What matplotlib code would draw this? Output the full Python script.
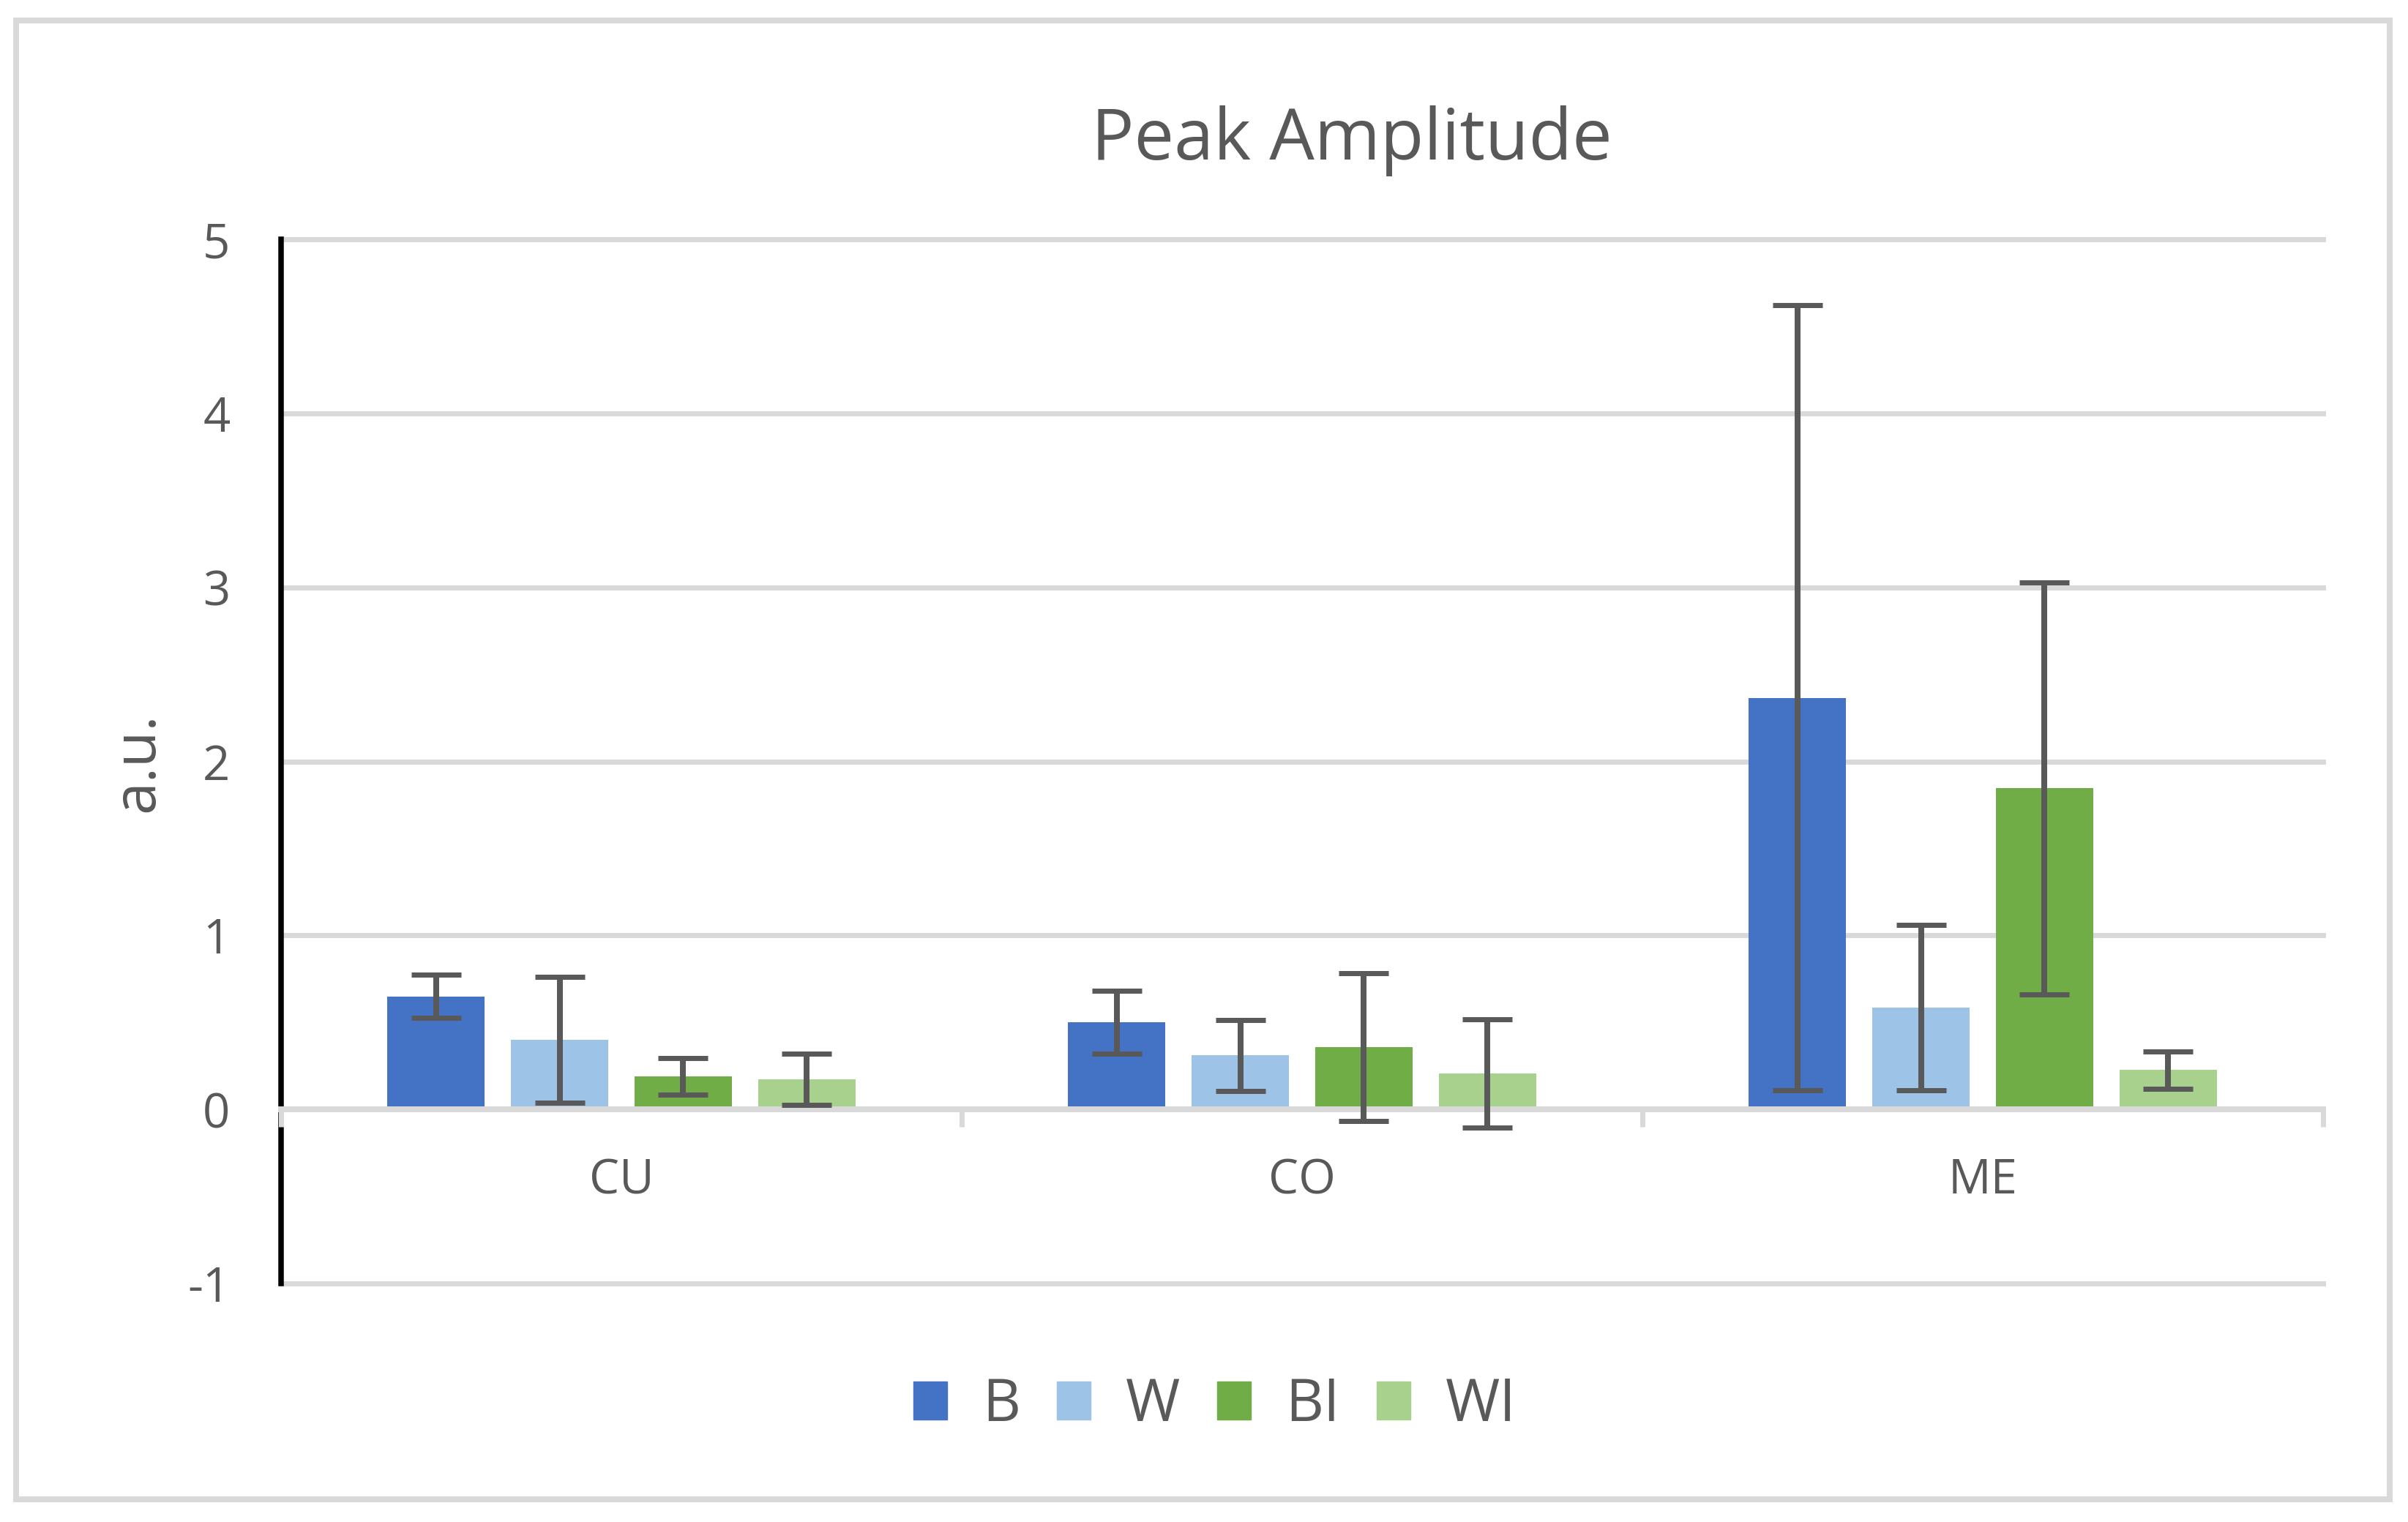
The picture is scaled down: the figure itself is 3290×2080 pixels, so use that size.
import matplotlib
matplotlib.use("Agg")
import matplotlib.pyplot as plt
import matplotlib.patches as mpatches
import numpy as np

plt.rcParams['font.family'] = ['Open Sans', 'DejaVu Sans']

categories = ["CU", "CO", "ME"]
series = ["B", "W", "BI", "WI"]
values_B = [0.65, 0.50, 2.365]
values_W = [0.40, 0.31, 0.586]
values_BI = [0.19, 0.357, 1.845]
values_WI = [0.175, 0.207, 0.226]
err_B = [0.125, 0.18, 2.255]
err_W = [0.36, 0.204, 0.474]
err_BI = [0.106, 0.425, 1.183]
err_WI = [0.147, 0.31, 0.106]
yticks = [-1, 0, 1, 2, 3, 4, 5]

colors = ["#4472C4", "#9DC3E6", "#70AD47", "#A9D18E"]
TXT = "#595959"
GRID = "#D9D9D9"

W_PX, H_PX = 3290, 2080
DPI = 100
fig = plt.figure(figsize=(W_PX / DPI, H_PX / DPI), dpi=DPI)
px = 72.0 / DPI  # points per pixel

ax = fig.add_axes([384 / W_PX, 1 - 1754 / H_PX, (3174 - 384) / W_PX, (1754 - 327) / H_PX])

vals = [values_B, values_W, values_BI, values_WI]
errs = [err_B, err_W, err_BI, err_WI]
x = np.arange(len(categories))
bw = 0.143
step = 0.1817
offsets = [-1.5 * step, -0.5 * step, 0.5 * step, 1.5 * step]

for v, e, c, off, name in zip(vals, errs, colors, offsets, series):
    ax.bar(x + off, v, width=bw, color=c, zorder=2, label=name)
    ax.errorbar(x + off, v, yerr=e, fmt='none', ecolor=TXT, elinewidth=8 * px,
                capsize=34 * px, capthick=7 * px, zorder=3)

ax.set_xlim(-0.5, len(categories) - 0.5)
ax.set_ylim(-1, 5)
ax.set_yticks(yticks)
ax.set_yticklabels([str(t) for t in yticks])
for t in yticks:
    ax.axhline(t, color=GRID, lw=7 * px, zorder=0.5, clip_on=False)

ax.set_xticks(x)
ax.set_xticklabels(categories)
ax.set_xticks(np.arange(len(categories) + 1) - 0.5, minor=True)
ax.tick_params(axis='x', which='major', length=0, pad=47, labelsize=47, labelcolor=TXT)
ax.tick_params(axis='x', which='minor', length=20 * px + 3, width=7 * px, color=GRID, direction='out')
ax.tick_params(axis='y', which='both', length=0, pad=50, labelsize=47, labelcolor=TXT)

for s in ['top', 'right']:
    ax.spines[s].set_visible(False)
ax.spines['left'].set_color('black')
ax.spines['left'].set_linewidth(7.5 * px)
ax.spines['left'].set_zorder(2.5)
ax.spines['bottom'].set_position(('data', 0))
ax.spines['bottom'].set_color(GRID)
ax.spines['bottom'].set_linewidth(8 * px)
ax.spines['bottom'].set_zorder(2.6)
ax.xaxis.set_zorder(2.7)

fig.text(1847 / W_PX, 1 - 218 / H_PX, "Peak Amplitude", ha='center', va='baseline',
         fontsize=70, color=TXT)
fig.text(188 / W_PX, 1 - 1042 / H_PX, "a.u.", ha='center', va='center', rotation=90,
         fontsize=58, color=TXT)

handles = [mpatches.Patch(color=c, label=n) for c, n in zip(colors, series)]
fs = 58
em = fs / px
fig.legend(handles=handles, loc='center', bbox_to_anchor=(1660 / W_PX, 1 - 1921 / H_PX),
           ncol=4, frameon=False, fontsize=fs, labelcolor=TXT,
           handlelength=46 / em, handleheight=50 / em, handletextpad=48 / em,
           columnspacing=50 / em, borderpad=0, borderaxespad=0)

border = mpatches.Rectangle((22 / W_PX, 1 - 2049 / H_PX), (3265 - 22) / W_PX, (2049 - 28) / H_PX,
                            transform=fig.transFigure, fill=False, edgecolor=GRID,
                            lw=8 * px, zorder=0)
fig.patches.append(border)

fig.savefig("out.png", dpi=DPI, facecolor='white')
